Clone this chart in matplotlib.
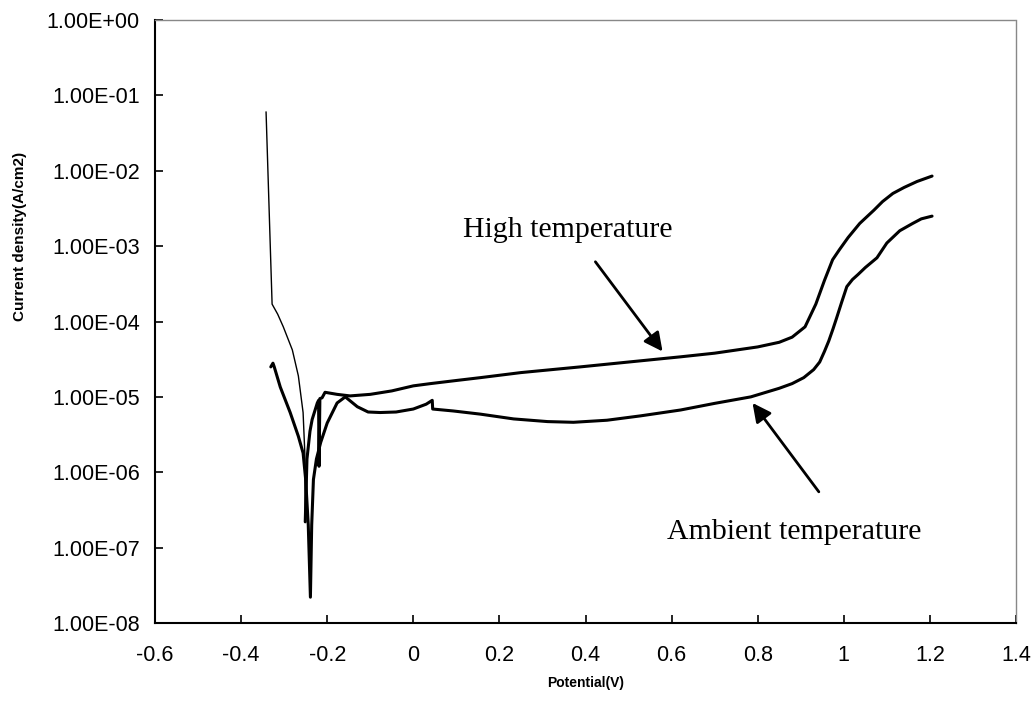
import matplotlib
matplotlib.use("Agg")
import matplotlib.pyplot as plt
from matplotlib.ticker import FixedLocator, FuncFormatter

# Polarization data: potential (V) vs current density (A/cm2)
high_potential = [-0.342, -0.328, -0.315, -0.302, -0.281, -0.267, -0.256, -0.252, -0.251,
                  -0.247, -0.240, -0.235, -0.223, -0.220, -0.219, -0.217, -0.212, -0.205,
                  -0.177, -0.147, -0.100, -0.050, 0.000, 0.040, 0.100, 0.156, 0.250,
                  0.388, 0.500, 0.621, 0.700, 0.800, 0.850, 0.880, 0.910, 0.935,
                  0.955, 0.974, 0.990, 1.010, 1.037, 1.070, 1.090, 1.114, 1.140,
                  1.170, 1.205]
high_current = [6.0e-2, 1.7e-4, 1.25e-4, 8.5e-5, 4.2e-5, 1.9e-5, 6.2e-6, 1.8e-6, 2.2e-7,
                1.5e-6, 3.5e-6, 5.0e-6, 8.3e-6, 9.0e-6, 1.2e-6, 9.5e-6, 9.7e-6, 1.15e-5,
                1.08e-5, 1.03e-5, 1.08e-5, 1.2e-5, 1.4e-5, 1.5e-5, 1.65e-5, 1.8e-5, 2.1e-5,
                2.5e-5, 2.9e-5, 3.4e-5, 3.8e-5, 4.6e-5, 5.3e-5, 6.2e-5, 8.5e-5, 1.7e-4,
                3.5e-4, 6.6e-4, 9.0e-4, 1.3e-3, 2.0e-3, 3.0e-3, 3.9e-3, 5.0e-3, 6.0e-3,
                7.2e-3, 8.5e-3]
high_thin_count = 9  # scan segment drawn with the thin pen

ambient_potential = [-0.331, -0.326, -0.323, -0.309, -0.286, -0.267, -0.256, -0.250, -0.244,
                     -0.239, -0.236, -0.232, -0.225, -0.215, -0.200, -0.177, -0.158, -0.130,
                     -0.105, -0.077, -0.040, 0.000, 0.030, 0.044, 0.045, 0.093, 0.156,
                     0.233, 0.312, 0.372, 0.450, 0.528, 0.621, 0.700, 0.784, 0.850,
                     0.880, 0.907, 0.930, 0.944, 0.955, 0.965, 0.975, 0.983, 0.995,
                     1.007, 1.020, 1.033, 1.050, 1.077, 1.100, 1.130, 1.160, 1.180, 1.205]
ambient_current = [2.5e-5, 2.8e-5, 2.5e-5, 1.35e-5, 6.2e-6, 3.0e-6, 1.8e-6, 8.0e-7, 2.0e-7,
                   2.2e-8, 2.0e-7, 8.0e-7, 1.5e-6, 2.5e-6, 4.5e-6, 8.3e-6, 1.0e-5, 7.4e-6,
                   6.3e-6, 6.2e-6, 6.3e-6, 6.9e-6, 8.0e-6, 9.0e-6, 6.9e-6, 6.5e-6, 5.9e-6,
                   5.1e-6, 4.7e-6, 4.6e-6, 4.9e-6, 5.6e-6, 6.7e-6, 8.2e-6, 1.0e-5, 1.3e-5,
                   1.5e-5, 1.8e-5, 2.3e-5, 2.9e-5, 4.0e-5, 5.5e-5, 8.0e-5, 1.1e-4, 1.8e-4,
                   2.9e-4, 3.6e-4, 4.2e-4, 5.2e-4, 7.0e-4, 1.1e-3, 1.6e-3, 2.0e-3, 2.3e-3, 2.5e-3]

x_ticks = [-0.6, -0.4, -0.2, 0, 0.2, 0.4, 0.6, 0.8, 1, 1.2, 1.4]
y_ticks = [1e-8, 1e-7, 1e-6, 1e-5, 1e-4, 1e-3, 1e-2, 1e-1, 1e0]

W, H = 1035, 702
fig = plt.figure(figsize=(W / 100, H / 100), dpi=100)
left, right, bottom, top = 155, 1016, 623, 20
ax = fig.add_axes([left / W, 1 - bottom / H, (right - left) / W, (bottom - top) / H])

ax.plot(high_potential[:high_thin_count], high_current[:high_thin_count],
        color="black", lw=1.0, solid_joinstyle="round")
ax.plot(high_potential[high_thin_count - 1:], high_current[high_thin_count - 1:],
        color="black", lw=2.2, solid_joinstyle="round", solid_capstyle="round")
ax.plot(ambient_potential, ambient_current, color="black", lw=2.2,
        solid_joinstyle="round", solid_capstyle="round")

ax.set_yscale("log")
ax.set_xlim(-0.6, 1.4)
ax.set_ylim(1e-8, 1e0)
ax.xaxis.set_major_locator(FixedLocator(x_ticks))
ax.yaxis.set_major_locator(FixedLocator(y_ticks))
ax.yaxis.set_minor_locator(FixedLocator([]))
ax.xaxis.set_major_formatter(FuncFormatter(lambda v, p: f"{v:g}"))
ax.yaxis.set_major_formatter(FuncFormatter(lambda v, p: f"{v:.2E}"))

tick_font = "Liberation Sans"
for lab in ax.get_xticklabels() + ax.get_yticklabels():
    lab.set_fontfamily(tick_font)
ax.tick_params(axis="both", which="major", direction="in", length=6, width=1.2,
               labelsize=15.5, top=False, right=False)
ax.tick_params(axis="x", pad=16)
ax.tick_params(axis="y", pad=11)

for side in ("left", "bottom"):
    ax.spines[side].set_linewidth(1.5)
    ax.spines[side].set_color("black")
for side in ("top", "right"):
    ax.spines[side].set_linewidth(1.0)
    ax.spines[side].set_color("#888888")
    ax.spines[side].set_linestyle((0, (1, 1)))

fig.text(20 / W, 1 - 236 / H, "Current density(A/cm2)", rotation=90, ha="center",
         va="center", fontsize=11, fontweight="bold", family=tick_font)
fig.text(586 / W, 1 - 683 / H, "Potential(V)", ha="center", va="center",
         fontsize=10, fontweight="bold", family=tick_font)

serif = "Liberation Serif"
arrow = dict(arrowstyle="-|>", mutation_scale=28, lw=2, color="black",
             shrinkA=0, shrinkB=0)
ax.text(0.358, 1.64e-3, "High temperature", ha="center", va="center",
        fontsize=21.5, family=serif)
ax.annotate("", xy=(0.579, 4.0e-5), xytext=(0.423, 6.2e-4), arrowprops=arrow)
ax.text(0.884, 1.62e-7, "Ambient temperature", ha="center", va="center",
        fontsize=21.5, family=serif)
ax.annotate("", xy=(0.788, 8.3e-6), xytext=(0.942, 5.5e-7), arrowprops=arrow)

fig.savefig("out.png", dpi=100)
